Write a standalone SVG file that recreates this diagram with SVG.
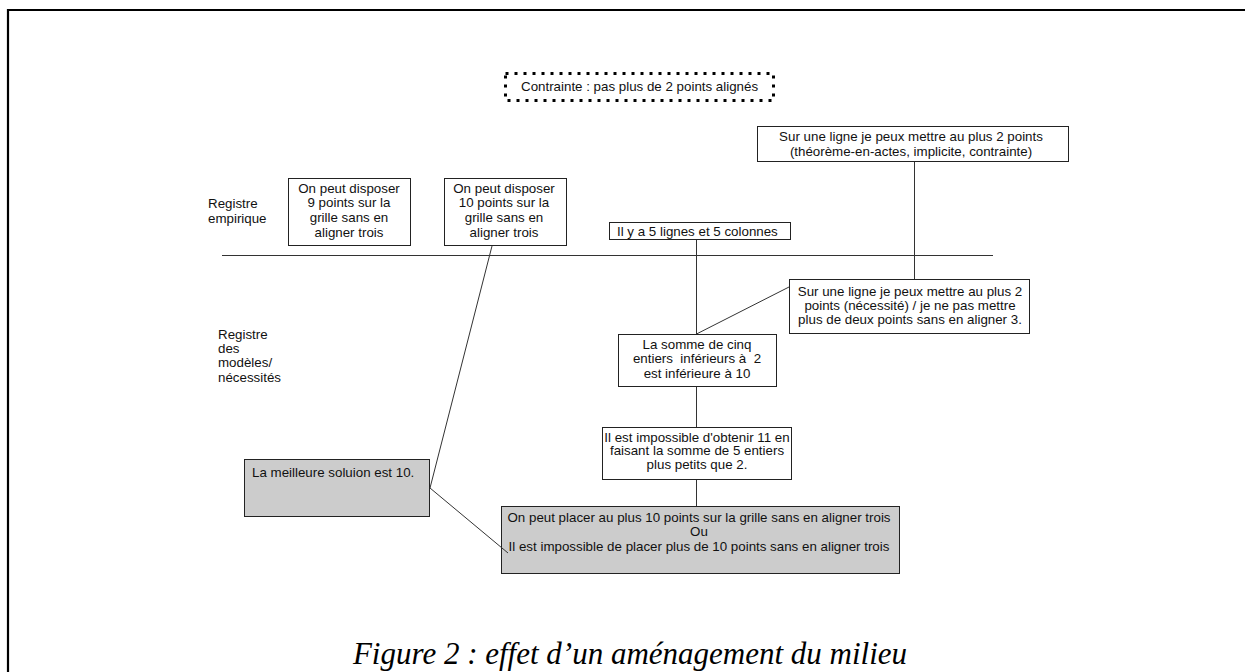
<svg xmlns="http://www.w3.org/2000/svg" width="1245" height="672" viewBox="0 0 1245 672">
<style>
  .t { font-family: "Liberation Sans", Arial, sans-serif; font-size: 13.33px; fill: #111; }
  .c { text-anchor: middle; }
  .box { fill: #fff; stroke: #222; stroke-width: 1; }
  .gray { fill: #cccccc; stroke: #222; stroke-width: 1; }
  .ln { stroke: #333; stroke-width: 1; fill: none; }
  .cap { font-family: "Liberation Serif", "Times New Roman", serif; font-style: italic; font-size: 31px; fill: #000; text-anchor: middle; }
</style>
<rect width="1245" height="672" fill="#fff"/>
<path d="M8,672 V10 H1245" fill="none" stroke="#000" stroke-width="2.2"/>

<g id="connectors">
  <line class="ln" x1="222" y1="255.5" x2="993" y2="255.5"/>
  <line class="ln" x1="914.5" y1="162" x2="914.5" y2="279"/>
  <line class="ln" x1="696.5" y1="239" x2="696.5" y2="334"/>
  <line class="ln" x1="696.5" y1="386" x2="696.5" y2="427"/>
  <line class="ln" x1="696.5" y1="479" x2="696.5" y2="506"/>
  <line class="ln" x1="789" y1="287" x2="696.5" y2="334"/>
  <line class="ln" x1="492" y1="246" x2="430" y2="488"/>
</g>

<g id="contrainte">
  <rect x="505.5" y="73.5" width="268" height="27" fill="none" stroke="#000" stroke-width="3" stroke-dasharray="3 6"/>
  <text class="t" x="521" y="91">Contrainte : pas plus de 2 points alignés</text>
</g>

<g id="reg-empirique">
  <text class="t" x="208" y="208">Registre</text>
  <text class="t" x="208" y="223">empirique</text>
</g>

<g id="reg-modeles">
  <text class="t" x="218" y="339">Registre</text>
  <text class="t" x="218" y="353">des</text>
  <text class="t" x="218" y="367">modèles/</text>
  <text class="t" x="218" y="382">nécessités</text>
</g>

<g id="box-9points">
  <rect class="box" x="288.5" y="178.5" width="122" height="67"/>
  <text class="t c" x="349" y="193">On peut disposer</text>
  <text class="t c" x="349" y="207">9 points sur la</text>
  <text class="t c" x="349" y="222">grille sans en</text>
  <text class="t c" x="349" y="237">aligner trois</text>
</g>

<g id="box-10points">
  <rect class="box" x="444.5" y="178.5" width="122" height="67"/>
  <text class="t c" x="504" y="193">On peut disposer</text>
  <text class="t c" x="504" y="207">10 points sur la</text>
  <text class="t c" x="504" y="222">grille sans en</text>
  <text class="t c" x="504" y="237">aligner trois</text>
</g>

<g id="box-lignes">
  <rect class="box" x="609.5" y="222.5" width="181" height="17"/>
  <text class="t" x="617" y="235.5">Il y a 5 lignes et 5 colonnes</text>
</g>

<g id="box-theoreme">
  <rect class="box" x="757.5" y="126.5" width="311" height="35"/>
  <text class="t c" x="911" y="141">Sur une ligne je peux mettre au plus 2 points</text>
  <text class="t c" x="911" y="156">(théorème-en-actes, implicite, contrainte)</text>
</g>

<g id="box-necessite">
  <rect class="box" x="789.5" y="279.5" width="240" height="54"/>
  <text class="t c" x="910" y="296">Sur une ligne je peux mettre au plus 2</text>
  <text class="t c" x="910" y="310">points (nécessité) / je ne pas mettre</text>
  <text class="t c" x="910" y="324">plus de deux points sans en aligner 3.</text>
</g>

<g id="box-somme">
  <rect class="box" x="618.5" y="334.5" width="158" height="52"/>
  <text class="t c" x="697" y="349">La somme de cinq</text>
  <text class="t c" x="697" y="363" xml:space="preserve">entiers  inférieurs à  2</text>
  <text class="t c" x="697" y="378">est inférieure à 10</text>
</g>

<g id="box-impossible">
  <rect class="box" x="602.5" y="427.5" width="189" height="52"/>
  <text class="t c" x="697" y="441.5">Il est impossible d'obtenir 11 en</text>
  <text class="t c" x="697" y="455">faisant la somme de 5 entiers</text>
  <text class="t c" x="697" y="469">plus petits que 2.</text>
</g>

<g id="box-meilleure">
  <rect class="gray" x="244.5" y="459.5" width="185" height="57"/>
  <text class="t" x="252" y="477">La meilleure soluion est 10.</text>
</g>

<g id="box-conclusion">
  <rect class="gray" x="501.5" y="506.5" width="398" height="67"/>
  <text class="t c" x="699" y="522">On peut placer au plus 10 points sur la grille sans en aligner trois</text>
  <text class="t c" x="699" y="536">Ou</text>
  <text class="t c" x="699" y="551">Il est impossible de placer plus de 10 points sans en aligner trois</text>
</g>

<line class="ln" x1="430" y1="488" x2="508" y2="553"/>

<text class="cap" x="630" y="664">Figure 2 : effet d’un aménagement du milieu</text>
</svg>
